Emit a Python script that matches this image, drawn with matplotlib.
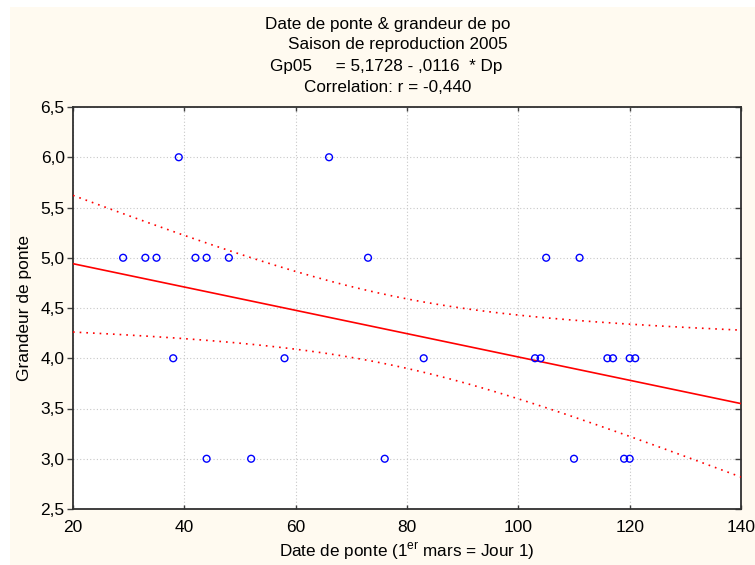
import numpy as np
import matplotlib
matplotlib.use("Agg")
import matplotlib.pyplot as plt
from matplotlib.patches import Rectangle

plt.rcParams['font.family'] = ['Liberation Sans', 'DejaVu Sans']
plt.rcParams['mathtext.fontset'] = 'custom'
plt.rcParams['mathtext.rm'] = 'Liberation Sans'

# Laying date (day, 1 March = day 1) and clutch size, season 2005
date_ponte = [29, 33, 35, 39, 38, 42, 44, 44, 48, 52, 58, 66, 73, 76, 83,
              103, 104, 105, 110, 111, 116, 117, 119, 120, 120, 121]
grandeur = [5, 5, 5, 6, 4, 5, 5, 3, 5, 3, 4, 6, 5, 3, 4,
            4, 4, 5, 3, 5, 4, 4, 3, 3, 4, 4]

intercept = 5.1728
slope = -0.0116
x_ticks = [20, 40, 60, 80, 100, 120, 140]
y_ticks = [2.5, 3.0, 3.5, 4.0, 4.5, 5.0, 5.5, 6.0, 6.5]

x = np.array(date_ponte, dtype=float)
y = np.array(grandeur, dtype=float)
n = len(x)

fig = plt.figure(figsize=(7.55, 5.65), dpi=100)
fig.patch.set_facecolor('white')
fig.patches.append(Rectangle((10 / 755, 0), 1, 1 - 7 / 565, transform=fig.transFigure,
                             facecolor='#fffaf0', edgecolor='none', zorder=-10))

ax = fig.add_axes([73 / 755, 1 - 509 / 565, (741 - 73) / 755, (509 - 107) / 565])
ax.set_facecolor('white')

# regression line and 95% confidence band
xs = np.linspace(20, 140, 300)
ys = intercept + slope * xs
fit = intercept + slope * x
s = np.sqrt(np.sum((y - fit) ** 2) / (n - 2))
sxx = np.sum((x - x.mean()) ** 2)
t_crit = 2.0639  # Student t, 0.975, 24 df
half = t_crit * s * np.sqrt(1 / n + (xs - x.mean()) ** 2 / sxx)

ax.plot(xs, ys, color='#ff0000', lw=1.2, zorder=3)
ax.plot(xs, ys + half, color='#ff0000', lw=1.2, ls=(0, (1, 3)), zorder=3)
ax.plot(xs, ys - half, color='#ff0000', lw=1.2, ls=(0, (1, 3)), zorder=3)

ax.scatter(x, y, s=24, facecolors='none', edgecolors='#0000ff', linewidths=1.0, zorder=4)

ax.set_xlim(20, 140)
ax.set_ylim(2.5, 6.5)
ax.set_xticks(x_ticks)
ax.set_yticks(y_ticks)
ax.set_xticklabels([str(v) for v in x_ticks])
ax.set_yticklabels([f"{v:.1f}".replace('.', ',') for v in y_ticks])
ax.grid(True, color='#c8c8c8', ls=(0, (1, 2)), lw=0.8)

for sp in ax.spines.values():
    sp.set_color('#303030')
    sp.set_linewidth(1.3)

ax.tick_params(axis='x', direction='in', length=3, width=1, color='#404040',
               top=True, labelsize=12.5, pad=8)
ax.tick_params(axis='y', direction='out', length=4, width=1, color='#404040',
               labelsize=12.5, pad=2)
ax.tick_params(axis='y', which='both', right=True)
for t in ax.yaxis.get_major_ticks():
    t.tick2line.set_marker(matplotlib.markers.TICKLEFT)
    t.tick2line.set_markersize(4)

ax.set_xlabel("Date de ponte (1$^{\\mathrm{er}}$ mars = Jour 1)", fontsize=12.3, labelpad=4)
ax.set_ylabel("Grandeur de ponte", fontsize=12.5, labelpad=6)

title_kw = dict(ha='center', va='center', fontsize=12.3)
fig.text(388 / 755, 1 - 25 / 565, "Date de ponte & grandeur de po", **title_kw)
fig.text(398 / 755, 1 - 45 / 565, "Saison de reproduction 2005", **title_kw)
fig.text(386 / 755, 1 - 67 / 565, "Gp05     = 5,1728 - ,0116  * Dp", **title_kw)
fig.text(388 / 755, 1 - 88 / 565, "Correlation: r = -0,440", **title_kw)

fig.savefig("out.png", dpi=100, facecolor=fig.get_facecolor())
